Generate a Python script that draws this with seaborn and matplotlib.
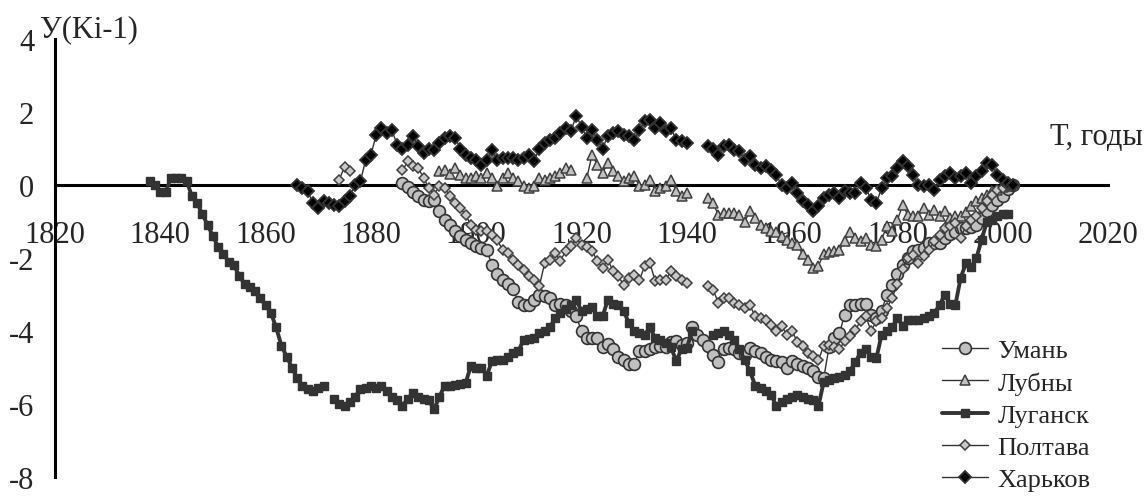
import numpy as np
import pandas as pd
import matplotlib
matplotlib.use("Agg")
import matplotlib.pyplot as plt
import matplotlib.ticker as mticker
from matplotlib.lines import Line2D
import seaborn as sns

nan = np.nan

# yearly values, first year given separately
uman_start = 1886
uman = [0.05, -0.05, -0.2, -0.3,
        -0.4, -0.45, -0.4, -0.7, -0.95, -1.1, -1.25, -1.4, -1.5, -1.6,
        -1.67, -1.73, -1.78, -2.2, -2.45, -2.6, -2.7, -2.85, -3.2, -3.3,
        -3.3, -3.15, -3.0, -3.05, -3.1, -3.3, -3.25, -3.3, -3.45, -3.6,
        -4.0, -4.2, -4.2, -4.2, -4.45, -4.35, -4.5, -4.7, -4.8, -4.9,
        -4.9, -4.55, -4.55, -4.5, -4.45, -4.4, -4.45, -4.3, -4.27, -4.38,
        -4.33, -3.9, -4.1, -4.25, -4.4, -4.65, -4.85, -4.5, -4.47, -4.5,
        -4.6, -4.65, -4.47, -4.55, -4.6, -4.7, -4.8, -4.82, -4.85, -5.0,
        -4.82, -4.9, -4.95, -5.0, -5.1, -5.25, -5.3, -4.45, -4.2, -4.05,
        -3.55, -3.3, -3.3, -3.25, -3.25, -3.55, -3.65, -3.45, -3.0, -2.75,
        -2.45, -2.2, -2.0, -1.8, -1.78, -1.73, -1.6, -1.6, -1.6, -1.45,
        -1.35, -1.3, -1.18, -1.18, -1.15, -1.1, -0.9, -0.7, -0.55, -0.4,
        -0.3, -0.1, 0.0]

lubny_start = 1893
lubny = [0.37, 0.4, 0.3, 0.46, 0.27, 0.19, 0.19,
         0.25, 0.19, 0.33, 0.19, -0.03, 0.2, 0.33, 0.19, 0.1, -0.03,
         -0.08, -0.03, 0.19, 0.14, 0.2, 0.25, 0.33, 0.46, 0.4, nan,
         nan, 0.19, 0.82, 0.55, 0.33, 0.6, 0.37, 0.25, 0.1, 0.19,
         0.25, -0.03, 0.0, 0.14, -0.16, -0.08, -0.03, 0.14, -0.16, -0.3,
         -0.22, nan, nan, nan, -0.36, -0.5, -0.82, -0.77, -0.77, -0.77,
         -0.82, -1.0, -0.71, -0.9, -1.1, -1.18, -1.25, -1.3, -1.4, -1.5,
         -1.6, -1.64, -1.9, -2.05, -2.27, -2.22, -1.88, -1.84, -1.8, -1.78,
         -1.53, -1.3, -1.45, -1.53, -1.45, -1.64, -1.67, -1.5, -1.12, -1.26,
         -0.96, -0.55, -0.82, -0.85, -0.85, -0.63, -0.82, -0.68, -0.85, -0.71,
         -0.9, -0.85, -0.85, -0.75, -0.57, -0.44, -0.35, -0.27, -0.16, -0.14,
         -0.05, -0.02, 0.0]

luhansk_start = 1838
luhansk = [0.1, 0.0,
           -0.2, -0.2, 0.2, 0.2, 0.2, 0.1, -0.3, -0.5, -0.8, -1.1,
           -1.4, -1.7, -1.9, -2.1, -2.2, -2.5, -2.7, -2.8, -2.9, -3.1,
           -3.3, -3.5, -3.9, -4.4, -4.7, -5.0, -5.3, -5.5, -5.6, -5.65,
           -5.55, -5.5, nan, -5.85, -6.0, -6.05, -5.95, -5.8, -5.6, -5.55,
           -5.5, -5.55, -5.5, -5.65, -5.8, -5.9, -6.05, -5.85, -5.7, -5.8,
           -5.85, -5.9, -6.15, -5.8, -5.5, -5.5, -5.48, -5.45, -5.42, -4.95,
           -5.0, -5.0, -5.23, -4.82, -4.8, -4.8, -4.7, -4.6, -4.55, -4.25,
           -4.22, -4.2, -4.05, -4.0, -3.9, -3.64, -3.5, -3.4, -3.3, -3.15,
           -3.45, -3.4, -3.35, -3.6, -3.6, -3.15, -3.25, -3.3, -3.45, -3.78,
           -4.0, -4.05, -4.1, -3.9, -4.2, -4.25, -4.33, -4.45, -4.82, -4.5,
           -4.47, -4.0, nan, nan, nan, -4.1, -4.05, -4.0, -4.1, -4.25,
           -4.5, -4.8, -5.1, -5.5, -5.55, -5.65, -5.75, -6.05, -5.95, -5.85,
           -5.8, -5.75, -5.8, -5.85, -5.9, -6.05, -5.4, -5.35, -5.3, -5.25,
           -5.2, -5.1, -4.85, -4.6, -4.5, -4.7, -4.75, -4.1, -4.0, -3.9,
           -3.65, -3.85, -3.7, -3.7, -3.7, -3.65, -3.6, -3.5, -3.3, -3.0,
           -3.25, -3.3, -2.55, -2.15, -2.25, -2.0, -1.5, -1.0, -0.95, -0.85,
           -0.8, -0.8]

poltava_start = 1874
poltava = [0.15, 0.5, 0.37, nan, nan, nan,
           nan, nan, nan, nan, nan, nan, 0.4, 0.65, 0.52, 0.46,
           0.2, -0.08, -0.27, -0.03, -0.08, -0.3, -0.5, -0.63, -0.82, -1.1,
           -1.23, -1.25, -1.26, -1.37, -1.5, -1.78, -1.86, -2.05, -2.2, -2.33,
           -2.5, -2.6, -2.77, -2.14, -2.05, -1.86, -2.08, -1.8, -1.67, -1.45,
           -1.64, -1.7, -1.8, -2.08, -2.27, -2.05, -2.36, -2.5, -2.74, -2.55,
           -2.46, -2.6, -2.22, -2.14, -2.63, -2.6, -2.6, -2.36, -2.5, -2.6,
           -2.68, nan, nan, nan, -2.77, -2.87, -3.23, -3.1, -3.1, -3.23,
           -3.3, -3.37, -3.3, -3.6, -3.65, -3.7, -3.84, -4.0, -3.86, -4.1,
           -4.0, -4.3, -4.4, -4.6, -4.68, -4.8, -4.4, -4.38, -4.45, -4.5,
           -4.27, -4.13, -3.97, -3.73, -3.6, -4.0, -3.73, -3.64, -3.37, -3.1,
           -2.7, -2.3, -2.0, -1.92, -2.14, -1.95, -1.78, -1.53, -1.37, -1.18,
           -1.12, -1.04, -1.45, -1.12, -0.95, -0.85, -0.63, -0.44, -0.27, -0.15,
           -0.08, -0.04, 0.0]

kharkov_start = 1866
kharkov = [0.0, -0.08, -0.16, -0.5,
           -0.63, -0.45, -0.5, -0.55, -0.57, -0.44, -0.3, 0.0, 0.1, 0.68,
           0.82, 1.37, 1.56, 1.42, 1.5, 1.1, 1.0, 1.1, 1.34, 1.07,
           0.88, 1.0, 0.96, 1.15, 1.29, 1.34, 1.29, 1.0, 0.82, 0.75,
           0.68, 0.55, 0.68, 0.96, 0.68, 0.74, 0.74, 0.74, 0.68, 0.75,
           0.82, 0.66, 1.0, 1.15, 1.22, 1.29, 1.42, 1.56, 1.48, 1.9,
           1.6, 1.29, 1.5, 1.23, 1.0, 1.34, 1.42, 1.48, 1.37, 1.34,
           1.23, 1.5, 1.75, 1.78, 1.56, 1.7, 1.48, 1.56, 1.23, 1.2,
           1.15, nan, nan, nan, 1.07, 1.0, 0.82, 1.07, 1.1, 0.96,
           0.93, 0.68, 0.8, 0.55, 0.46, 0.52, 0.41, 0.27, 0.0, -0.08,
           0.05, -0.22, -0.44, -0.55, -0.71, -0.57, -0.36, -0.27, -0.22, -0.36,
           -0.16, -0.22, -0.22, 0.05, -0.08, -0.41, -0.5, -0.08, 0.19, 0.25,
           0.46, 0.66, 0.52, 0.27, 0.0, -0.03, 0.0, -0.14, 0.14, 0.25,
           0.33, 0.19, 0.25, 0.33, 0.05, 0.25, 0.38, 0.6, 0.55, 0.27,
           0.15, 0.05, 0.0]

names = ["Умань", "Лубны", "Луганск", "Полтава", "Харьков"]
starts = [uman_start, lubny_start, luhansk_start, poltava_start, kharkov_start]
series = [uman, lubny, luhansk, poltava, kharkov]

styles = {
    "Умань": dict(marker="o", markersize=8.5, markerfacecolor="#c0c0c0",
                  markeredgecolor="#333333", markeredgewidth=1.2, linewidth=1.0),
    "Лубны": dict(marker="^", markersize=7.5, markerfacecolor="#c0c0c0",
                  markeredgecolor="#404040", markeredgewidth=1.1, linewidth=1.0),
    "Луганск": dict(marker="s", markersize=6, markerfacecolor="#333333",
                    markeredgecolor="#333333", markeredgewidth=1.0, linewidth=2.8),
    "Полтава": dict(marker="D", markersize=5.5, markerfacecolor="#c8c8c8",
                    markeredgecolor="#404040", markeredgewidth=1.1, linewidth=1.0),
    "Харьков": dict(marker="D", markersize=6, markerfacecolor="#000000",
                    markeredgecolor="#333333", markeredgewidth=1.3, linewidth=1.0),
}


def to_frame(name, start, values):
    v = np.array(values, dtype=float)
    df = pd.DataFrame({"year": np.arange(start, start + len(v)), "value": v})
    df["seg"] = np.isnan(v).cumsum()
    df["city"] = name
    return df.dropna()


data = pd.concat([to_frame(n, s, v) for n, s, v in zip(names, starts, series)])

sns.set_style("white")
plt.rcParams["font.family"] = ["Liberation Serif", "DejaVu Serif"]
plt.rcParams["axes.unicode_minus"] = False

fig = plt.figure(figsize=(11.47, 5.02), dpi=100)
ax = fig.add_axes([55 / 1147, 24 / 502, 1053 / 1147, 438 / 502])

for i, name in enumerate(names):
    sns.lineplot(data=data[data.city == name], x="year", y="value", units="seg",
                 estimator=None, color="#333333", legend=False, ax=ax,
                 zorder=3 + i, **styles[name])

ax.set_xlim(1820, 2020)
ax.set_ylim(-8, 4)
ax.set_xlabel("")
ax.set_ylabel("")

for s in ["top", "right"]:
    ax.spines[s].set_visible(False)
ax.spines["bottom"].set_position(("data", 0))
for s in ["left", "bottom"]:
    ax.spines[s].set_linewidth(2.2)
    ax.spines[s].set_color("black")
    ax.spines[s].set_zorder(2.5)

ax.xaxis.set_major_locator(mticker.MultipleLocator(20))
ax.xaxis.set_minor_locator(mticker.MultipleLocator(5))
ax.yaxis.set_major_locator(mticker.MultipleLocator(2))
ax.tick_params(axis="x", which="major", direction="inout", length=16, width=2.2,
               pad=17, labelsize=22, color="black")
ax.tick_params(axis="x", which="minor", direction="in", length=7, width=2.2,
               color="black")
ax.tick_params(axis="y", which="major", direction="out", length=7, width=2.2,
               pad=8, labelsize=22, color="black")

ax.annotate("У(Ki-1)", xy=(1820, 4), xytext=(-11, 2), textcoords="offset points",
            ha="left", va="baseline", fontsize=22, annotation_clip=False)
ax.text(2026.6, 1.12, "Т, годы", ha="right", va="baseline", fontsize=22,
        clip_on=False)

handles = [Line2D([], [], color="#333333", label=n, **styles[n]) for n in names]
fig.legend(handles=handles, loc="upper left", bbox_to_anchor=(942 / 1147, 1 - 340 / 502),
           frameon=False, fontsize=19, handlelength=1.75, handletextpad=0.35,
           labelspacing=0.33, borderpad=0, borderaxespad=0)

fig.savefig("out.png", dpi=100)
